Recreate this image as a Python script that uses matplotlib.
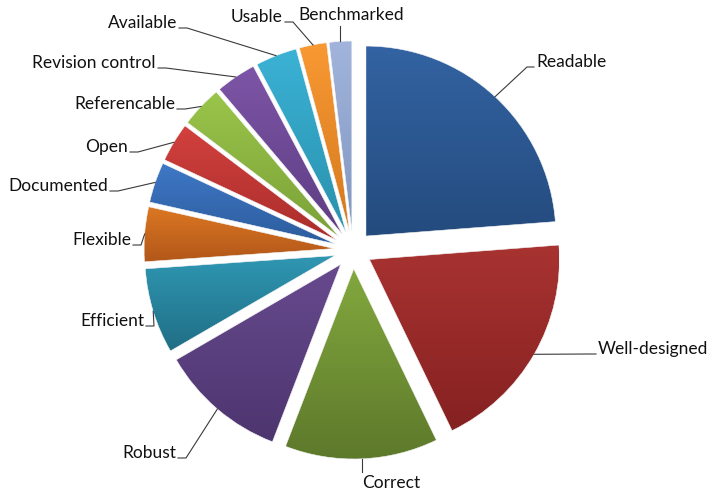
import numpy as np
import matplotlib
matplotlib.use("Agg")
from matplotlib import pyplot as plt
from matplotlib.colors import to_rgb

labels = ["Readable", "Well-designed", "Correct", "Robust", "Efficient", "Flexible",
          "Documented", "Open", "Referencable", "Revision control", "Available",
          "Usable", "Benchmarked"]
shares = [23.6, 18.9, 12.9, 10.7, 7.2, 4.6, 3.4, 3.3, 3.5, 3.4, 3.5, 2.3, 1.9]

# excel-ish gradient, lighter at the top of each slice
top_colors = ["#3363a2", "#a83331", "#83a83e", "#674a8e", "#2f97b3", "#dc7823",
              "#3f78c6", "#d2413e", "#9ac54a", "#7d55a7", "#3bb2d5", "#f89933", "#a2b4db"]
bottom_colors = ["#244b7e", "#852121", "#5d792b", "#4d356f", "#206e85", "#b25719",
                 "#2c5c9d", "#aa2d2b", "#7aa138", "#5e3e83", "#2991ad", "#d5791f", "#7f97c1"]

# where the label text sits (pixels from top-left) and on which side of the leader
label_pos = [(536, 62, "left"), (598, 349, "left"), (391, 483, "below"),
             (176, 453, "right"), (144, 321, "right"), (131, 240, "right"),
             (108, 186, "right"), (128, 147, "right"), (175, 104, "right"),
             (156, 63, "right"), (177, 23, "right"), (283, 17, "right"),
             (298, 15, "above")]

fig = plt.figure(figsize=(7.17, 4.98), dpi=100)
ax = fig.add_axes([0, 0, 1, 1])

R = 190
wedges, _ = ax.pie(shares, radius=R, center=(353, 250), explode=[19] * len(shares),
                   startangle=-90, counterclock=True,
                   wedgeprops=dict(facecolor="none", edgecolor="#f4f4f4", linewidth=0.4))

for w, c0, c1 in zip(wedges, top_colors, bottom_colors):
    w.set_zorder(3)
    ext = w.get_path().get_extents()
    t = np.linspace(0, 1, 256)[:, None, None]
    img = (1 - t) * np.array(to_rgb(c0)) + t * np.array(to_rgb(c1))
    im = ax.imshow(img, extent=(ext.x0, ext.x1, ext.y1, ext.y0), origin="upper",
                   aspect="auto", interpolation="bilinear", zorder=2)
    im.set_clip_path(w)

for w, name, (tx, ty, side) in zip(wedges, labels, label_pos):
    mid = np.deg2rad((w.theta1 + w.theta2) / 2)
    px = w.center[0] + w.r * np.cos(mid)
    py = w.center[1] + w.r * np.sin(mid)
    if side == "right":
        xs, ys = [px, tx + 10, tx + 2], [py, ty + 5, ty + 5]
        ha = "right"
    elif side == "left":
        xs, ys = [px, tx - 9, tx - 2], [py, ty + 5, ty + 5]
        ha = "left"
    elif side == "below":
        xs, ys = [px, px], [py, ty - 11]
        ha = "center"
    else:
        xs, ys = [px, px], [py, ty + 11]
        ha = "left"
    ax.plot(xs, ys, color="#3a3a3a", lw=0.8, zorder=4)
    ax.text(tx, ty, name, ha=ha, va="center", fontsize=12.5, family="Lato", color="#111111")

ax.set_xlim(0, 717)
ax.set_ylim(498, 0)
ax.axis("off")

fig.savefig("out.png", dpi=100)
